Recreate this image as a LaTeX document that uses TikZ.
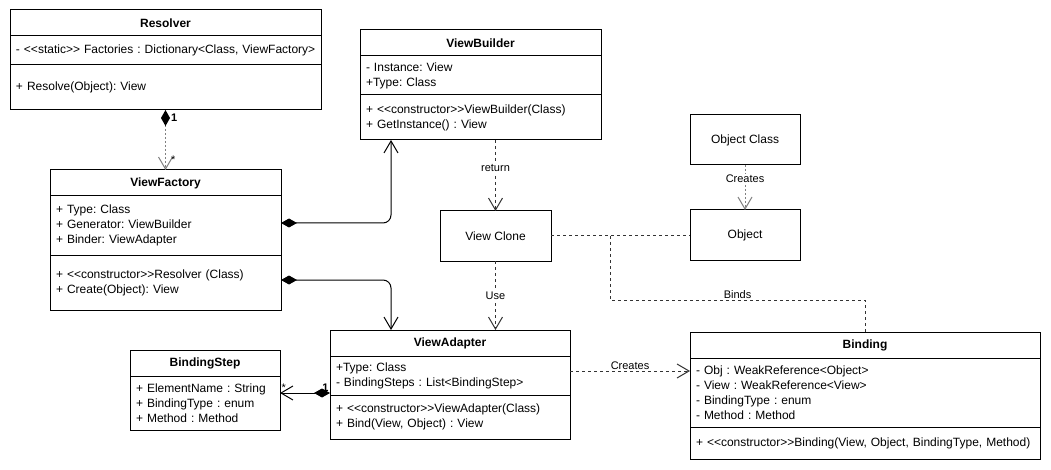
\documentclass[tikz,border=0pt]{standalone}
\usepackage{fontspec}
\setmainfont{Liberation Sans}[Ligatures=TeXOff]
\usepackage{tikz}
\usetikzlibrary{arrows.meta, positioning}
\definecolor{DashGray}{HTML}{333333}
\definecolor{DotGray}{HTML}{808080}
\frenchspacing

\begin{document}
\begin{tikzpicture}[x=1pt, y=-1pt, line width=1pt,
    font=\fontsize{12}{15}\selectfont,
    umlhead/.style={draw, outer sep=0pt, inner sep=0pt, minimum width=#1,
                    minimum height=26pt, font=\fontsize{12}{15}\selectfont\bfseries},
    umlpart/.style 2 args={draw, outer sep=0pt, inner xsep=6pt, inner ysep=0pt,
                    text width=#1-12pt, minimum height=#2, align=left},
    plainbox/.style={draw, outer sep=0pt, minimum width=111pt, minimum height=50pt},
    comp/.style={{Diamond[length=16pt,width=9pt]}-{Straight Barb[length=12pt,width=14pt]}},
    openend/.style={-{Straight Barb[length=12pt,width=14pt]}},
    dep/.style={DashGray, dash pattern=on 3pt off 3pt},
    dotline/.style={DotGray, dash pattern=on 2pt off 2pt},
    lbl/.style={font=\fontsize{11}{13}\selectfont, text=black, fill=white, inner sep=1pt},
    mult/.style={font=\fontsize{11}{13}\selectfont, text=black, inner sep=1pt}]

    \path[use as bounding box, fill=white] (0,0) rectangle (1051,470);

    % Resolver
    \node[umlhead=311pt, anchor=north west] (rsvHead) at (10,10) {Resolver};
    \node[umlpart={311pt}{29pt}, below=0pt of rsvHead] (rsvAttr)
        {\mbox{- <<static>> Factories : Dictionary<Class, ViewFactory>}};
    \node[umlpart={311pt}{45pt}, below=0pt of rsvAttr] (rsvOps)
        {+ Resolve(Object): View};

    % ViewFactory
    \node[umlhead=231pt, anchor=north west] (vfHead) at (50,170) {ViewFactory};
    \node[umlpart={231pt}{59pt}, below=0pt of vfHead] (vfAttr)
        {+ Type: Class\\+ Generator: ViewBuilder\\+ Binder: ViewAdapter};
    \node[umlpart={231pt}{55pt}, below=0pt of vfAttr] (vfOps)
        {+ <<constructor>>Resolver (Class)\\+ Create(Object): View};

    % ViewBuilder
    \node[umlhead=241pt, anchor=north west] (vbHead) at (360,30) {ViewBuilder};
    \node[umlpart={241pt}{39pt}, below=0pt of vbHead] (vbAttr)
        {- Instance: View\\+Type: Class};
    \node[umlpart={241pt}{45pt}, below=0pt of vbAttr] (vbOps)
        {+ <<constructor>>ViewBuilder(Class)\\+ GetInstance() : View};

    % ViewAdapter
    \node[umlhead=240pt, anchor=north west] (vaHead) at (330,330) {ViewAdapter};
    \node[umlpart={240pt}{39pt}, below=0pt of vaHead] (vaAttr)
        {+Type: Class\\- BindingSteps : List<BindingStep>};
    \node[umlpart={240pt}{44pt}, below=0pt of vaAttr] (vaOps)
        {+ <<constructor>>ViewAdapter(Class)\\+ Bind(View, Object) : View};

    % BindingStep
    \node[umlhead=150pt, anchor=north west] (bsHead) at (130,350) {BindingStep};
    \node[umlpart={150pt}{54pt}, below=0pt of bsHead] (bsAttr)
        {+ ElementName : String\\+ BindingType : enum\\+ Method : Method};

    % Binding
    \node[umlhead=350pt, anchor=north west] (bdHead) at (690,332) {Binding};
    \node[umlpart={350pt}{69pt}, below=0pt of bdHead] (bdAttr)
        {- Obj : WeakReference<Object>\\- View : WeakReference<View>\\- BindingType : enum\\- Method : Method};
    \node[umlpart={350pt}{32pt}, below=0pt of bdAttr] (bdOps)
        {+ <<constructor>>Binding(View, Object, BindingType, Method)};

    % Plain boxes
    \node[plainbox] (vclone) at (495.5,236) {View Clone};
    \node[plainbox, minimum width=110pt] (objclass) at (745,140) {Object Class};
    \node[plainbox, minimum width=110pt] (object) at (745,235) {Object};

    % Compositions
    \draw[dotline, {Diamond[length=16pt,width=9pt,black]}-{Straight Barb[length=12pt,width=14pt]}]
        (rsvOps.south) -- (vfHead.north)
        node[mult, pos=0, anchor=west, xshift=4pt, yshift=-8pt] {\bfseries 1}
        node[mult, pos=1, anchor=west, xshift=4pt, yshift=10pt] {*};
    \draw[comp, rounded corners=8pt] ([yshift=2.5pt]vfAttr.east) -| ([xshift=31pt]vbOps.south west);
    \draw[comp, rounded corners=8pt] ([yshift=2.5pt]vfOps.east) -| ([xshift=61pt]vaHead.north west);
    \draw[comp] ([yshift=2pt]vaAttr.south west) -- ([yshift=2pt]vaAttr.south west -| bsAttr.east)
        node[mult, pos=0, above left] {\bfseries 1}
        node[mult, pos=1, above right] {*};

    % Dependencies
    \draw[dep, openend] (vclone.north |- vbOps.south) -- (vclone.north) node[lbl, pos=0.4] {return};
    \draw[dep, openend] (vclone.south) -- (vclone.south |- vaHead.north) node[lbl, midway] {Use};
    \draw[dotline, openend] (objclass) -- (object) node[lbl, pos=0.3] {Creates};
    \draw[dep, openend] ([yshift=4.5pt]vaAttr.east) -- ([yshift=4.5pt]vaAttr.east -| bdAttr.west)
        node[mult, midway, above] {Creates};

    % Binds
    \coordinate (bindsTop) at (610,236);
    \coordinate (bindsLow) at (610,300);
    \draw[dep] (vclone.east) -- (vclone.east -| object.west);
    \draw[dep] (bindsTop) -- (bindsLow) -| (bdHead.north) node[mult, pos=0.25, above] {Binds};
\end{tikzpicture}
\end{document}
